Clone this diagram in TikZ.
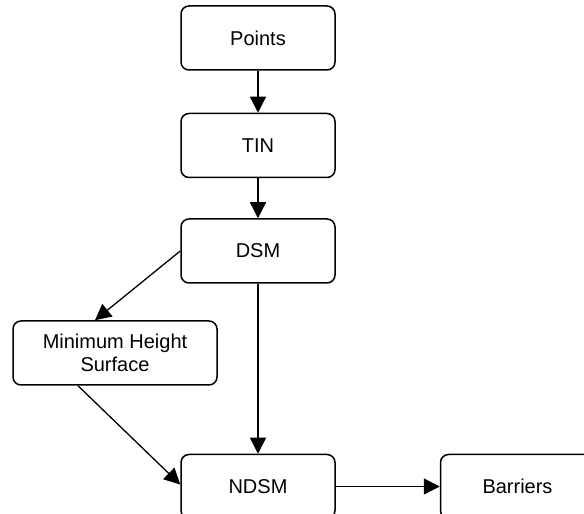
\documentclass[tikz,border=0pt]{standalone}
\usepackage{fontspec}
\setmainfont{Liberation Sans}
\usetikzlibrary{positioning,arrows.meta}
\tikzset{
	stepbox/.style={draw,line width=1.5pt,rounded corners=8pt,minimum width=154pt,minimum height=64pt,align=center,font=\fontsize{20}{23}\selectfont},
	arr/.style={line width=1.3pt,-{Triangle[length=16pt,width=16pt]}}
}
\begin{document}
\begin{tikzpicture}[x=1pt,y=1pt]
	\useasboundingbox (0,-2) rectangle (584,512);
	\node[stepbox] (points) at (258,474) {Points};
	\node[stepbox,below=42pt of points] (tin) {TIN};
	\node[stepbox,below=40pt of tin] (dsm) {DSM};
	\node[stepbox,minimum width=204pt] (mhs) at (115,159) {Minimum Height\\Surface};
	\node[stepbox,below=170pt of dsm] (ndsm) {NDSM};
	\node[stepbox,right=104pt of ndsm] (barriers) {Barriers};
	
	\draw[arr] (points) -- (tin);
	\draw[arr] (tin) -- (dsm);
	\draw[arr] (dsm) -- (ndsm);
	\draw[arr] (dsm.west) -- ([xshift=-20pt]mhs.north);
	\draw[arr] ([xshift=-37pt]mhs.south) -- ([yshift=2pt]ndsm.west);
	\draw[arr] (ndsm) -- (barriers);
\end{tikzpicture}
\end{document}
